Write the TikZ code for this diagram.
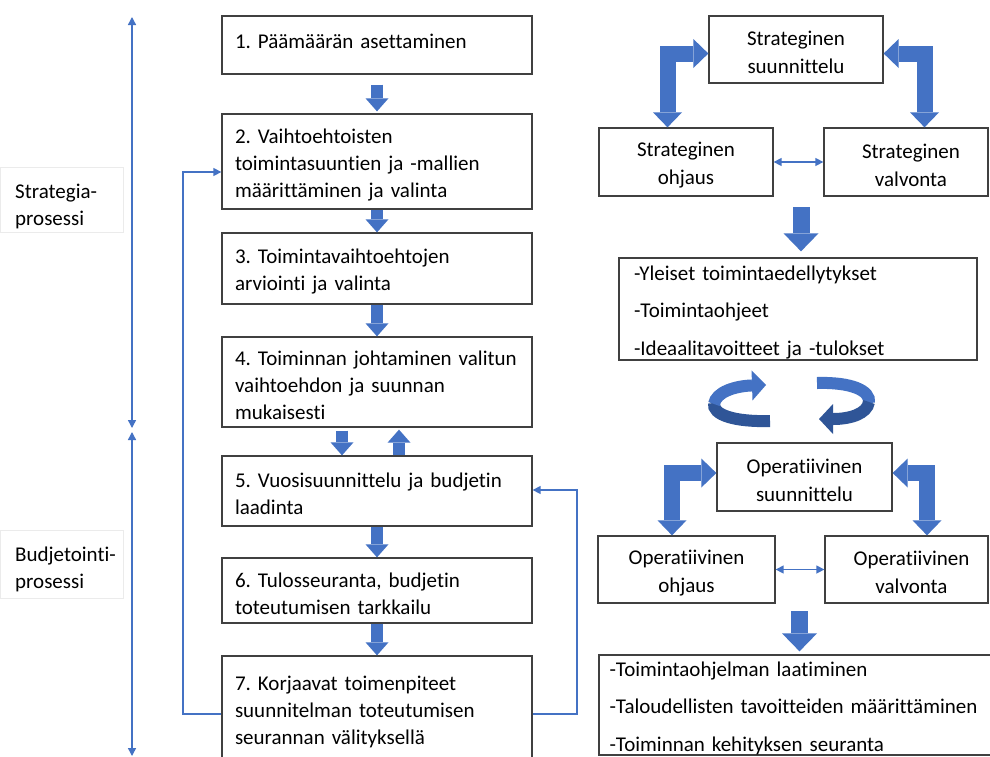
\documentclass[tikz,border=0pt]{standalone}
\usepackage{fontspec}
\setmainfont{Carlito}[Ligatures={NoCommon}]
\usetikzlibrary{arrows.meta}
\definecolor{obl}{HTML}{4472C4}
\definecolor{odk}{HTML}{2F5597}
\definecolor{bgr}{HTML}{404040}
\newcommand\fsl{\fontsize{21}{27}\selectfont\frenchspacing}
\newcommand\fsr{\fontsize{21}{28}\selectfont\frenchspacing}
\newcommand\fsli{\fontsize{21}{37.5}\selectfont\frenchspacing}
\newcommand\stt{\rule{0pt}{21pt}}
\begin{document}
\begin{tikzpicture}[x=1pt,y=-1pt,
  box/.style={draw=bgr, line width=1.3pt, inner sep=0pt},
  lbox/.style={box, font=\fsl, minimum width=310pt, text width=284pt, align=left},
  cbox/.style={box, font=\fsr, align=center},
  libox/.style={box, font=\fsli, align=left},
  sidebox/.style={draw=black!8, line width=0.8pt, inner sep=0pt, minimum width=123pt},
  sidetext/.style={inner sep=0pt, font=\fsl, anchor=west, align=left},
  blk/.style={draw=obl, line width=12pt, -{Triangle[length=13pt,width=23pt,line width=0pt]}},
  bigblk/.style={draw=obl, line width=17pt, -{Triangle[length=18pt,width=35pt,line width=0pt]}},
  bent/.style={draw=obl, line width=16pt,
    {Triangle[length=15pt,width=29pt,line width=0pt]}-{Triangle[length=15pt,width=29pt,line width=0pt]}},
  thinl/.style={draw=obl, line width=1.4pt},
  tip/.tip={Triangle[length=8pt,width=8pt]},
  curv/.style={line width=12pt},
]
\fill[white] (0,0) rectangle (990,756);
\useasboundingbox (0,0) rectangle (990,756);

% left side labels
\node[sidebox, minimum height=65pt] (lstr) at (61.5,199.5) {};
\node[sidetext] (tstr) at (15,203) {\stt Strategia-\\prosessi};
\node[sidebox, minimum height=68pt] (lbud) at (61.5,564) {};
\node[sidetext] (tbud) at (15,566) {\stt Budjetointi-\\prosessi};

% process boxes
\node[lbox, minimum height=58pt, text depth=15pt] (b1) at (377,45) {\stt 1. Päämäärän asettaminen};
\node[lbox, minimum height=95pt] (b2) at (377,161.5) {\stt 2. Vaihtoehtoisten\\toimintasuuntien ja -mallien\\määrittäminen ja valinta};
\node[lbox, minimum height=71pt] (b3) at (377,268.5) {\stt 3. Toimintavaihtoehtojen\\arviointi ja valinta};
\node[lbox, minimum height=90pt] (b4) at (377,382) {\stt 4. Toiminnan johtaminen valitun\\vaihtoehdon ja suunnan\\mukaisesti};
\node[lbox, minimum height=70pt] (b5) at (377,491) {\stt 5. Vuosisuunnittelu ja budjetin\\laadinta};
\node[lbox, minimum height=65pt] (b6) at (377,590.5) {\stt 6. Tulosseuranta, budjetin\\toteutumisen tarkkailu};
\node[lbox, minimum height=106pt] (b7) at (377,709) {\stt 7. Korjaavat toimenpiteet\\suunnitelman toteutumisen\\seurannan välityksellä};

% block arrows between process boxes
\draw[blk, shorten <=10pt, shorten >=2pt] (b1.south) -- (b2.north);
\draw[blk] (b2.south) -- (b3.north);
\draw[blk] (b3.south) -- (b4.north);
\draw[blk, shorten <=3pt] ([xshift=-35pt]b4.south) -- ([xshift=-35pt]b5.north);
\draw[blk, shorten >=2pt] ([xshift=22pt]b5.north) -- ([xshift=22pt]b4.south);
\draw[blk] (b5.south) -- (b6.north);
\draw[blk] (b6.south) -- (b7.north);

% phase arrows
\coordinate (va1) at (132,17);
\coordinate (va2) at (132,428);
\coordinate (va3) at (132,432);
\coordinate (va4) at (132,756);
\draw[thinl, tip-tip] (va1) -- (va2);
\draw[thinl, tip-tip] (va3) -- (va4);

% feedback loops
\draw[thinl, -tip] (b7.west |- 0,714) -| (183,172) -- (b2.west |- 0,172);
\draw[thinl, -tip] (b7.east |- 0,714) -| (577,490) -- (b5.east |- 0,490);

% strategic cluster
\node[cbox, minimum width=174pt, minimum height=67pt] (ss) at (796,49.5) {\stt Strateginen\\suunnittelu};
\node[cbox, minimum width=174pt, minimum height=68pt] (so) at (686,162) {\stt Strateginen\\ohjaus};
\node[cbox, minimum width=164pt, minimum height=68pt] (sv) at (906,162) {\stt\hspace*{10pt}Strateginen\\\hspace*{10pt}valvonta};
\draw[bent] (so.north -| 667.5,0) |- (ss.west |- 0,53.5);
\draw[bent] (sv.north -| 924.5,0) |- (ss.east |- 0,53.5);
\draw[thinl, tip-tip] (so.east) -- (sv.west);

\node[libox, minimum width=358pt, text width=328pt, minimum height=102pt] (L1) at (798,309)
  {\stt -Yleiset toimintaedellytykset\\-Toimintaohjeet\\-Ideaalitavoitteet ja -tulokset};
\draw[bigblk] ([xshift=3pt,yshift=50pt]L1.north) -- ([xshift=3pt,yshift=6pt]L1.north);

% rotating arrows
\draw[curv, odk] (770,421) .. controls (735,422) and (712,415) .. (714,403);
\draw[curv, obl, -{Triangle[length=14pt,width=30pt,line width=0pt]}]
  (714,404) .. controls (716,392) and (735,386) .. (766,385);
\draw[curv, obl] (817,383) .. controls (850,382) and (871,390) .. (869,403);
\draw[curv, odk, -{Triangle[length=14pt,width=30pt,line width=0pt]}]
  (869,402) .. controls (867,414) and (850,419) .. (819,419);

% operative cluster
\node[cbox, minimum width=175pt, minimum height=68pt] (os) at (804.5,477) {\stt Operatiivinen\\suunnittelu};
\node[cbox, minimum width=177pt, minimum height=67pt] (oo) at (686.5,569.5) {\stt Operatiivinen\\ohjaus};
\node[cbox, minimum width=163pt, minimum height=67pt] (ov) at (906.5,569.5) {\stt\hspace*{10pt}Operatiivinen\\\hspace*{10pt}valvonta};
\draw[bent] (oo.north -| 672,0) |- (os.west |- 0,473);
\draw[bent] (ov.north -| 927,0) |- (os.east |- 0,473);
\draw[thinl, tip-tip] (oo.east) -- (ov.west);

\node[libox, minimum width=393pt, text width=372pt, minimum height=100pt] (L2) at (795.5,705)
  {\stt -Toimintaohjelman laatiminen\\-Taloudellisten tavoitteiden määrittäminen\\-Toiminnan kehityksen seuranta};
\draw[bigblk] ([xshift=4pt,yshift=43pt]L2.north) -- ([xshift=4pt,yshift=3pt]L2.north);
\end{tikzpicture}
\end{document}
